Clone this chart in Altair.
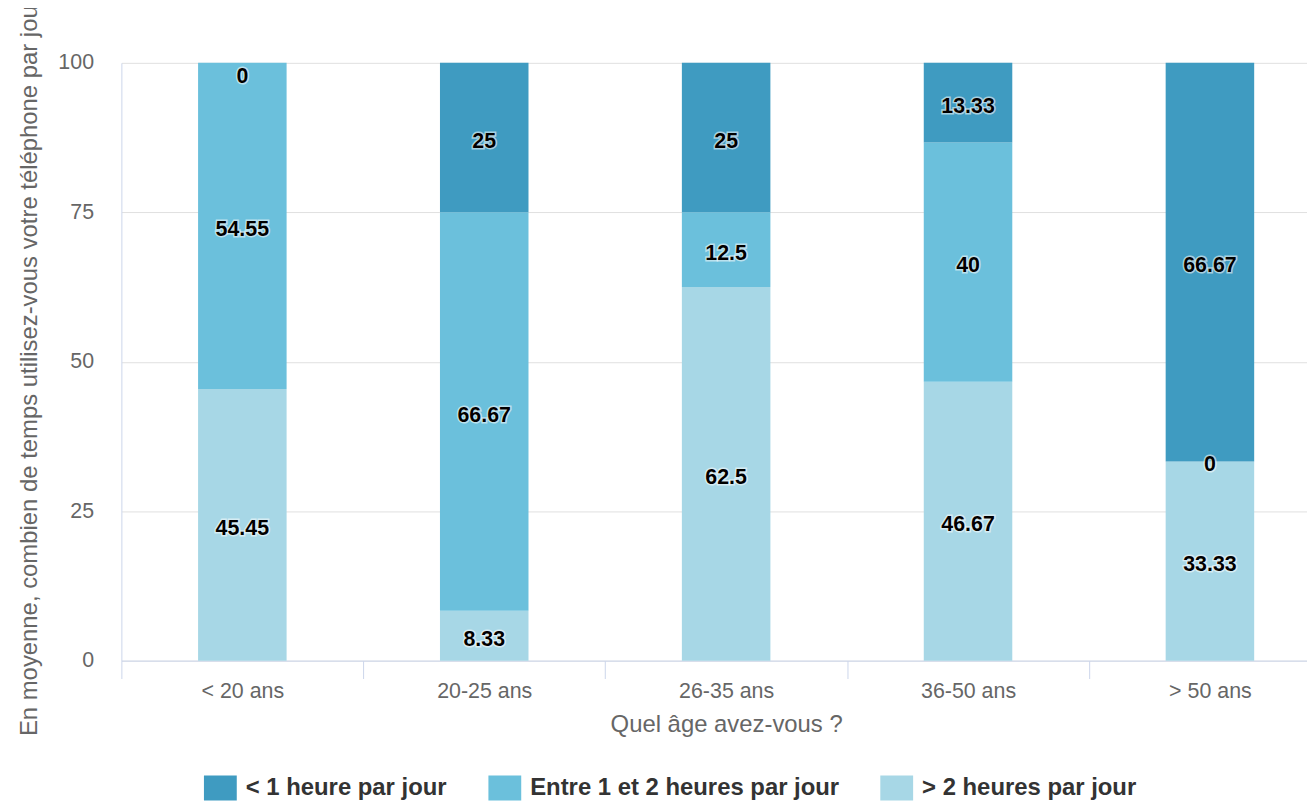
import altair as alt
import pandas as pd

ages = ["< 20 ans", "20-25 ans", "26-35 ans", "36-50 ans", "> 50 ans"]
series = ["< 1 heure par jour", "Entre 1 et 2 heures par jour", "> 2 heures par jour"]
colors = ["#3f9bc1", "#6bc0dc", "#a7d7e6"]
lt1 = [0, 25, 25, 13.33, 66.67]
b12 = [54.55, 66.67, 12.5, 40, 0]
gt2 = [45.45, 8.33, 62.5, 46.67, 33.33]
y_ticks = [0, 25, 50, 75, 100]

# stacking order from bottom: > 2h, 1-2h, < 1h
stack_order = [("> 2 heures par jour", gt2), ("Entre 1 et 2 heures par jour", b12), ("< 1 heure par jour", lt1)]
rows = []
for i, age in enumerate(ages):
    base = 0.0
    for name, vals in stack_order:
        v = vals[i]
        mid = base + v / 2
        rows.append({
            "age": age, "serie": name, "value": v,
            "y0": base, "y1": base + v,
            "ylab": min(mid, 98.3),
            "label": f"{v:g}",
        })
        base += v
df = pd.DataFrame(rows)

FONT = "Liberation Sans"

x_enc = alt.X("age:N", sort=ages,
              scale=alt.Scale(range=[0, 1216], paddingInner=0, paddingOuter=0),
              axis=alt.Axis(title="Quel âge avez-vous ?", labelAngle=0, grid=False,
                            domainColor="#ccd6eb", domainWidth=1,
                            tickColor="#ccd6eb", tickSize=18, tickBand="extent", tickWidth=1,
                            labelFontSize=21.5, labelColor="#666666", labelFont=FONT, labelPadding=2,
                            titleFontSize=24, titleColor="#666666", titleFont=FONT,
                            titleFontWeight="normal", titlePadding=11))

bars = alt.Chart(df).mark_bar(width=89, stroke=None).encode(
    x=x_enc,
    y=alt.Y("y0:Q", scale=alt.Scale(domain=[0, 100], nice=False),
            axis=alt.Axis(values=y_ticks, title="En moyenne, combien de temps utilisez-vous votre téléphone par jour",
                          grid=True, gridColor="#e0e0e0", gridWidth=1,
                          domain=True, domainColor="#ccd6eb", ticks=False, tickSize=0,
                          labelFontSize=21.5, labelColor="#666666", labelFont=FONT, labelPadding=28,
                          titleFontSize=24, titleColor="#666666", titleFont=FONT, titleFontWeight="normal",
                          titleX=-92, titleY=305, titleAngle=270, titleAlign="center",
                          titleBaseline="middle")),
    y2="y1:Q",
    color=alt.Color("serie:N", scale=alt.Scale(domain=series, range=colors),
                    legend=alt.Legend(title=None, orient="none", direction="horizontal",
                                      legendX=83, legendY=712, padding=0,
                                      symbolType="M-1,-0.758H1V0.758H-1Z", symbolSize=1089,
                                      symbolStrokeWidth=0, symbolOpacity=1,
                                      labelFontSize=24, labelFontWeight="bold", labelColor="#333333",
                                      labelFont=FONT, labelOffset=9, columnPadding=41,
                                      labelLimit=600)),
)

halo = alt.Chart(df).mark_text(font=FONT, fontSize=21.5, fontWeight="bold", dy=4,
                               stroke="white", strokeWidth=3, strokeOpacity=0.55,
                               color="white", baseline="middle").encode(
    x=alt.X("age:N", sort=ages), y=alt.Y("ylab:Q"), text="label:N")

labels = alt.Chart(df).mark_text(font=FONT, fontSize=21.5, fontWeight="bold", dy=4,
                                 color="#000000", baseline="middle").encode(
    x=alt.X("age:N", sort=ages), y=alt.Y("ylab:Q"), text="label:N")

chart = alt.layer(bars, halo, labels).properties(
    width=1192, height=601,
    autosize=alt.AutoSizeParams(type="none"),
    padding={"left": 114, "top": 53, "right": 0, "bottom": 142},
    background="white",
).configure_view(stroke=None)

chart.save("out.html", embed_options={"renderer": "svg", "actions": False})
